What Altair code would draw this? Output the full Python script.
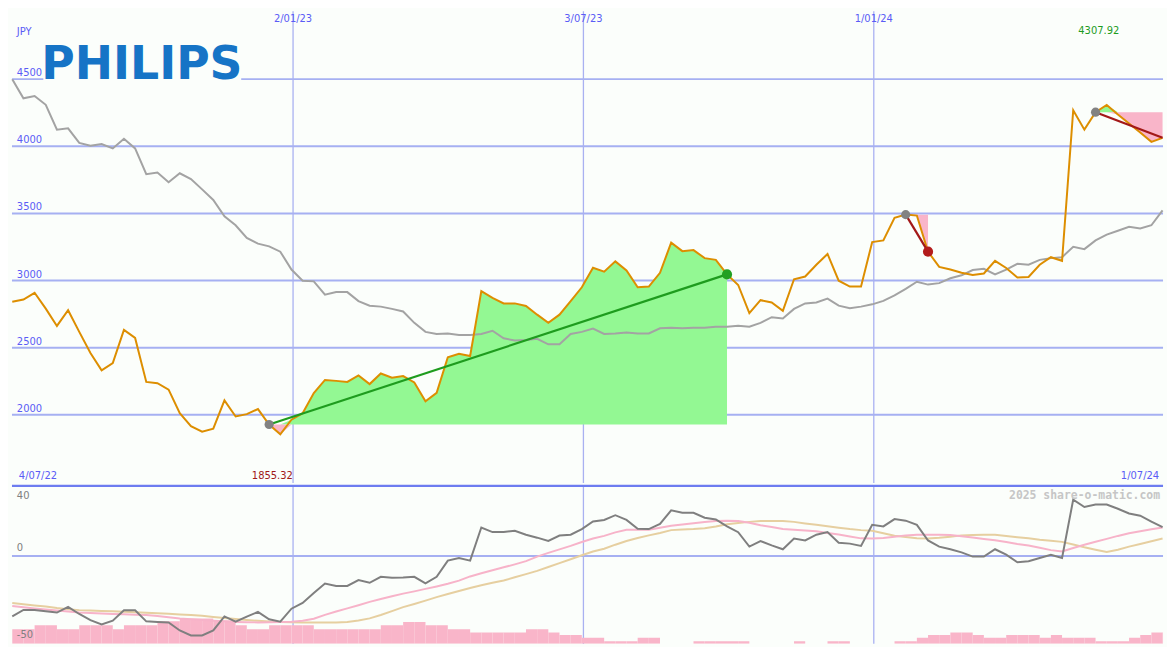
import altair as alt
import pandas as pd

# ---------------- data ----------------
price = [2842, 2859, 2909, 2791, 2662, 2779, 2618, 2460, 2332, 2385,
         2633, 2573, 2245, 2236, 2188, 2012, 1916, 1875, 1897, 2108,
         1988, 2005, 2043, 1928, 1855.32, 1964, 2012, 2162, 2260, 2253,
         2245, 2294, 2229, 2308, 2277, 2289, 2241, 2101, 2164, 2429,
         2455, 2438, 2921, 2871, 2830, 2830, 2811, 2746, 2685, 2746,
         2847, 2950, 3095, 3066, 3143, 3075, 2950, 2955, 3058, 3282,
         3219, 3227, 3167, 3154, 3046, 2967, 2758, 2854, 2837, 2775,
         3010, 3030, 3118, 3198, 2999, 2955, 2955, 3287, 3299, 3468,
         3491, 3484, 3215, 3102, 3082, 3058, 3042, 3053, 3147, 3094,
         3022, 3027, 3118, 3174, 3147, 4268, 4124, 4254, 4307.92, 4237,
         4170, 4102, 4033, 4063]

moving_avg = [4500, 4357, 4374, 4309, 4124, 4134, 4025, 4004, 4016, 3984,
              4056, 3984, 3792, 3804, 3732, 3799, 3756, 3679, 3600, 3479,
              3412, 3318, 3275, 3255, 3215, 3082, 2999, 2994, 2895, 2914,
              2914, 2847, 2813, 2806, 2789, 2770, 2685, 2618, 2602, 2606,
              2595, 2595, 2602, 2626, 2570, 2553, 2558, 2566, 2525, 2525,
              2602, 2618, 2642, 2602, 2606, 2613, 2606, 2606, 2645, 2649,
              2645, 2649, 2649, 2656, 2656, 2664, 2656, 2685, 2727, 2717,
              2789, 2830, 2837, 2866, 2813, 2794, 2806, 2823, 2849, 2890,
              2938, 2991, 2970, 2981, 3017, 3039, 3078, 3087, 3046, 3082,
              3125, 3118, 3154, 3167, 3174, 3251, 3234, 3299, 3342, 3371,
              3400, 3388, 3412, 3522]

momentum = [-34.4, -30.7, -30.7, -31.5, -32.2, -28.9, -33, -36.5, -39, -36.8,
            -30.9, -30.9, -37.2, -37.5, -37.8, -42.4, -45.2, -45.2, -42.4, -34.4,
            -37.4, -34.5, -31.8, -36, -37.4, -30, -26.7, -21, -15.6, -17,
            -17, -13.7, -15.2, -11.8, -12.4, -12.2, -11.8, -15.6, -11.8, -2.6,
            -1.1, -2.6, 16.3, 13.7, 13.7, 14.4, 12.2, 10.5, 8.6, 11.7,
            12.2, 15.4, 19.7, 20.6, 23.3, 20.6, 15.6, 15.4, 18.3, 26.1,
            24.7, 24.7, 21.9, 20.9, 16.9, 13.6, 5.4, 8.6, 6.1, 3.9,
            10, 8.9, 12.2, 13.7, 7.6, 7.1, 5.8, 17.8, 16.9, 21.1,
            20.2, 17.8, 8.9, 5.4, 3.9, 2.1, -0.3, -0.3, 3.9, 0.8,
            -3.5, -2.9, -1.1, 0.8, -1.1, 32.2, 28, 29.4, 29.4, 27,
            24.3, 23, 19.7, 16.5]

signal_fast = [-28.5, -29.2, -29.9, -30.5, -31, -31.6, -32.2, -32.4, -32.7, -33,
               -33.2, -33.4, -33.6, -34.2, -34.9, -35.6, -36, -36.4, -36.8, -37.2,
               -37.5, -37.7, -37.8, -37.7, -37.6, -37.4, -36.8, -35.7, -33.5, -31.6,
               -29.8, -28, -26.1, -24.5, -22.9, -21.4, -20.1, -18.7, -17.3, -15.8,
               -14, -11.6, -9.8, -8.1, -6.4, -4.7, -2.9, -0.3, 1.8, 3.8,
               5.8, 8, 10, 11.5, 13.5, 15, 15, 15, 16.1, 17.3,
               18, 18.7, 19.4, 20, 20.2, 20, 19, 17.6, 16.6, 15.5,
               15, 14.6, 14.2, 13.2, 12.3, 11.2, 10.1, 10, 10.3, 11,
               11.8, 12.2, 12.2, 12.2, 12, 11.3, 10.6, 9.8, 9, 8,
               6.9, 6, 4.7, 3.4, 2.6, 4.6, 6.5, 8.2, 9.8, 11.5,
               13, 14.2, 15.3, 16.3]

signal_slow = [-26.7, -27.4, -28.1, -28.7, -29.6, -30.3, -30.8, -31, -31.3, -31.5,
               -31.7, -32, -32.3, -32.6, -32.9, -33.3, -33.6, -34, -34.7, -35.3,
               -35.8, -36.4, -36.9, -37.3, -37.5, -37.7, -37.8, -37.8, -37.8, -37.8,
               -37.5, -36.7, -35.5, -33.6, -31.4, -29.1, -27.3, -25.4, -23.4, -21.6,
               -19.9, -18.2, -16.6, -15.2, -13.9, -12.1, -10.3, -8.4, -6.2, -4.0,
               -1.8, 0.5, 2.6, 4.2, 6.5, 8.6, 10.3, 11.8, 13.2, 14.8,
               15.2, 15.4, 15.9, 16.9, 18.1, 18.8, 19.5, 20, 20, 20,
               19.5, 18.6, 17.8, 17, 16.2, 15.4, 14.8, 14.4, 13, 11.6,
               10.9, 10.2, 10, 10.4, 11, 11.8, 12, 12.2, 12.1, 11.5,
               10.8, 10.2, 9.3, 8.7, 8.1, 6.6, 5, 3.6, 2.3, 3.6,
               5.4, 6.9, 8.5, 10]

volume = [8.3, 8.3, 10.6, 10.6, 8.3, 8.3, 10.6, 10.6, 10.6, 8.3,
          10.6, 10.6, 10.6, 12.8, 12.8, 14.4, 14.4, 14.4, 13.3, 13.3,
          10.6, 8.3, 8.3, 10.6, 10.6, 10.6, 10.6, 8.3, 8.3, 8.3,
          8.3, 8.3, 8.3, 10.6, 10.6, 12.4, 12.4, 10.6, 10.6, 8.3,
          8.3, 6.5, 6.5, 6.5, 6.5, 6.5, 8.3, 8.3, 6.5, 5,
          5, 3.5, 3.5, 1.5, 1.5, 1.5, 3.5, 3.5, 0, 0,
          0, 1.5, 1.5, 1.5, 1.5, 1.5, 0, 0, 0, 0,
          1.5, 0, 0, 1.5, 1.5, 0, 0, 0, 0, 1.5,
          1.5, 3.5, 5, 5, 6.5, 6.5, 5, 3.5, 3.5, 5,
          5, 5, 3.5, 5, 3.5, 3.5, 3.5, 1.5, 1.5, 1.5,
          3.5, 5, 6.5, 6.5]

grid_dates = ["2023-01-02", "2023-07-03", "2024-01-01"]
grid_labels = ["2/01/23", "3/07/23", "1/01/24"]
price_ticks = [2000, 2500, 3000, 3500, 4000, 4500]
event_start = [23, 80, 97]
event_end = [64, 82, 103]
event_closed = [True, True, False]

# ---------------- layout / style ----------------
W = 1159
SX = W / 1175
SY = 634 / 650
H1 = round(487 * SY)
H2 = 634 - H1

BG = "#fbfefb"
GRID = "#a6b0f2"
VGRID = "#a9b1f1"
SEP = "#6d7cf0"
TXT = "#5a5cf6"
ORANGE = "#dd8e00"
MAGREY = "#a3a3a3"
GREENF = "#93f893"
PINKF = "#f9b5c9"
FONT = "DejaVu Sans"
FS = 10

dates = pd.date_range("2022-07-10", periods=len(price), freq="7D")
df = pd.DataFrame({"date": dates, "price": price, "ma": moving_avg,
                   "mom": momentum, "fast": signal_fast, "slow": signal_slow,
                   "vol": volume})
df["date_next"] = df["date"] + pd.Timedelta(days=7)
df["vol_top"] = -50 + df["vol"]
df["vol_base"] = -50.0

gdf = pd.DataFrame({"date": pd.to_datetime(grid_dates), "label": grid_labels})

ev_rows, fill_rows = [], []
for i, (s, e, c) in enumerate(zip(event_start, event_end, event_closed)):
    p0, p1 = price[s], price[e]
    up = p1 >= p0
    ev_rows.append(dict(ev=i, d0=dates[s], d1=dates[e], p0=p0, p1=p1,
                        col="#1e9c1e" if up else "#a31818",
                        endcol="#22a022" if up else "#b31c1c",
                        closed=c))
    for k in range(s, e + 1):
        fill_rows.append(dict(ev=i, date=dates[k], level=p0,
                              hi=max(price[k], p0), lo=min(price[k], p0)))
ev = pd.DataFrame(ev_rows)
fill = pd.DataFrame(fill_rows)

xs = alt.Scale(domain=[alt.DateTime(year=2022, month=7, date=9, hours=19, minutes=40),
                       alt.DateTime(year=2024, month=6, date=30, hours=7)], nice=False)
ys = alt.Scale(domain=[1493, 5006], nice=False, zero=False)
ys2 = alt.Scale(domain=[-50, 40], nice=False, zero=False)


def X(f):
    return alt.X(f, scale=xs, axis=None)


def label(txt, x, y, align="left", baseline="middle", color=TXT, size=FS,
          font=FONT, weight="normal"):
    return alt.Chart(pd.DataFrame({"t": [txt]})).mark_text(
        align=align, baseline=baseline, color=color, fontSize=size,
        font=font, fontWeight=weight).encode(
        x=alt.value(x), y=alt.value(y), text="t:N")


# ---------------- main panel ----------------
hgrid = alt.Chart(pd.DataFrame({"v": price_ticks})).mark_rule(
    color=GRID, strokeWidth=2).encode(y=alt.Y("v:Q", scale=ys, axis=None))
vgrid = alt.Chart(gdf).mark_rule(color=VGRID, strokeWidth=1.3).encode(x=X("date:T"))

logo_bg = alt.Chart(pd.DataFrame({"a": [0]})).mark_rect(color=BG).encode(
    x=alt.value(32 * SX), x2=alt.value(234 * SX),
    y=alt.value(30 * SY), y2=alt.value(72 * SY))
logo = label("PHILIPS", 30 * SX, 70.5 * SY, baseline="alphabetic",
             color="#1674c6", size=46, weight="bold")

green_fill = alt.Chart(fill).mark_area(color=GREENF, opacity=1).encode(
    x=X("date:T"), y=alt.Y("hi:Q", scale=ys, axis=None), y2="level:Q",
    detail="ev:N")
pink_fill = alt.Chart(fill).mark_area(color=PINKF, opacity=1).encode(
    x=X("date:T"), y=alt.Y("lo:Q", scale=ys, axis=None), y2="level:Q",
    detail="ev:N")

ma_line = alt.Chart(df).mark_line(color=MAGREY, strokeWidth=2).encode(
    x=X("date:T"), y=alt.Y("ma:Q", scale=ys, axis=None))
price_line = alt.Chart(df).mark_line(color=ORANGE, strokeWidth=2).encode(
    x=X("date:T"), y=alt.Y("price:Q", scale=ys, axis=None))

ev_lines = alt.Chart(ev).mark_rule(strokeWidth=2.2).encode(
    x=X("d0:T"), x2="d1:T", y=alt.Y("p0:Q", scale=ys, axis=None), y2="p1:Q",
    color=alt.Color("col:N", scale=None))
start_pts = alt.Chart(ev).mark_circle(size=85, color="#828282", opacity=1).encode(
    x=X("d0:T"), y=alt.Y("p0:Q", scale=ys, axis=None))
end_pts = alt.Chart(ev[ev["closed"]]).mark_circle(size=105, opacity=1).encode(
    x=X("d1:T"), y=alt.Y("p1:Q", scale=ys, axis=None),
    color=alt.Color("endcol:N", scale=None))

ylabels = alt.Chart(pd.DataFrame({"v": price_ticks})).mark_text(
    align="left", baseline="bottom", dy=-1, color=TXT, fontSize=FS, font=FONT).encode(
    x=alt.value(5 * SX), y=alt.Y("v:Q", scale=ys, axis=None),
    text=alt.Text("v:Q", format="d"))
jpy = label("JPY", 5 * SX, 21 * SY)
top_dates = alt.Chart(gdf).mark_text(
    align="center", baseline="top", color=TXT, fontSize=FS, font=FONT).encode(
    x=X("date:T"), y=alt.value(3 * SY), text="label:N")
first_date = label("4/07/22", 7 * SX, 485 * SY, baseline="bottom")
last_date = label("1/07/24", 1171 * SX, 485 * SY, align="right", baseline="bottom")

imin = int(df["price"].idxmin())
imax = int(df["price"].idxmax())
min_lab = alt.Chart(df.loc[[imin]]).mark_text(
    align="center", baseline="bottom", dx=-8, color="#a01818",
    fontSize=FS, font=FONT).encode(
    x=X("date:T"), y=alt.value(485 * SY), text=alt.Text("price:Q", format=".2f"))
max_lab = alt.Chart(df.loc[[imax]]).mark_text(
    align="center", baseline="top", dx=-8, color="#1e9c1e",
    fontSize=FS, font=FONT).encode(
    x=X("date:T"), y=alt.value(15 * SY), text=alt.Text("price:Q", format=".2f"))

top = alt.layer(hgrid, vgrid, logo_bg, logo, green_fill, pink_fill, ma_line,
                price_line, ev_lines, start_pts, end_pts, ylabels, jpy,
                top_dates, first_date, last_date, min_lab, max_lab
                ).properties(width=W, height=H1)

# ---------------- indicator panel ----------------
vgrid2 = alt.Chart(gdf).mark_rule(color=VGRID, strokeWidth=1.3).encode(x=X("date:T"))
zero = alt.Chart(pd.DataFrame({"v": [0]})).mark_rule(color=GRID, strokeWidth=2).encode(
    y=alt.Y("v:Q", scale=ys2, axis=None))
bars = alt.Chart(df).mark_rect(color=PINKF, clip=True).encode(
    x=X("date:T"), x2="date_next:T",
    y=alt.Y("vol_top:Q", scale=ys2, axis=None), y2="vol_base:Q")
slow_line = alt.Chart(df).mark_line(color="#e6cfa0", strokeWidth=2).encode(
    x=X("date:T"), y=alt.Y("slow:Q", scale=ys2, axis=None))
fast_line = alt.Chart(df).mark_line(color="#f7b3c9", strokeWidth=2).encode(
    x=X("date:T"), y=alt.Y("fast:Q", scale=ys2, axis=None))
mom_line = alt.Chart(df).mark_line(color="#7f7f7f", strokeWidth=2).encode(
    x=X("date:T"), y=alt.Y("mom:Q", scale=ys2, axis=None))
sep = alt.Chart(pd.DataFrame({"v": [40]})).mark_rule(color=SEP, strokeWidth=2.2).encode(
    y=alt.Y("v:Q", scale=ys2, axis=None))

lab40 = label("40", 5 * SX, (492 - 487) * SY, baseline="top", color="#808080")
lab0 = label("0", 5 * SX, (556 - 487) * SY, baseline="bottom", color="#808080")
lab50 = label("-50", 5 * SX, (646 - 487) * SY, baseline="bottom", color="#808080")
mark_wm = label("2025 share-o-matic.com", 1172 * SX, (491 - 487) * SY, align="right",
                baseline="top", color="#c6c6c6", size=11.5, font="DejaVu Sans Mono",
                weight="bold")

bottom = alt.layer(vgrid2, zero, bars, slow_line, fast_line, mom_line, sep,
                   lab40, lab0, lab50, mark_wm).properties(width=W, height=H2)

chart = alt.vconcat(top, bottom, spacing=0).properties(
    padding=0, background=BG).configure_view(stroke=None, strokeWidth=0)

chart.save("out.html", embed_options={"renderer": "svg", "actions": False})
